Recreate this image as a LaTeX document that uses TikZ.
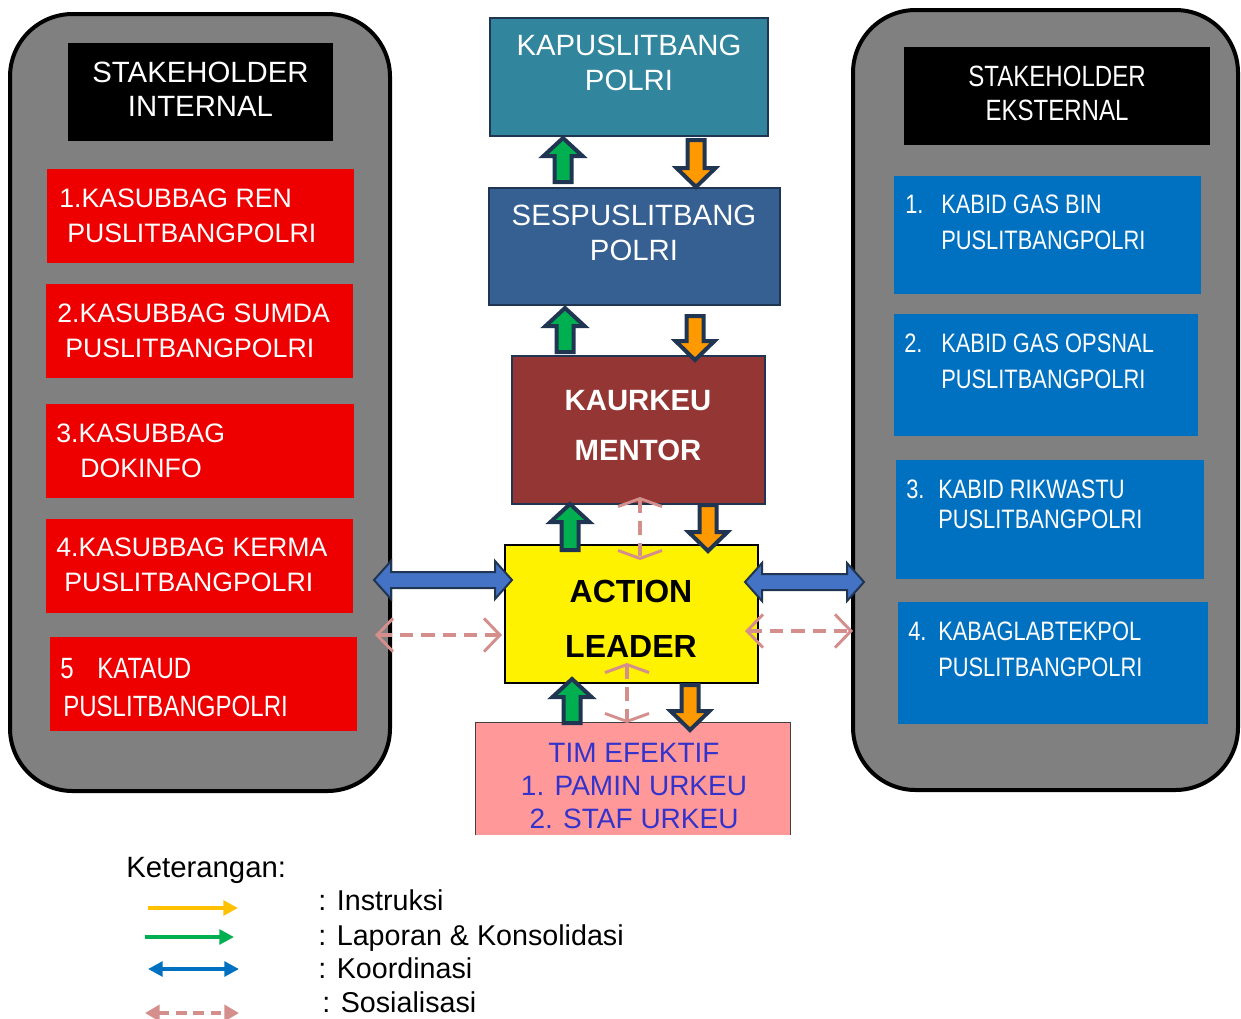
\documentclass[tikz,border=0pt]{standalone}
\usepackage{fontspec}
\setmainfont{Liberation Sans}
\newfontfamily\narrowfont[FakeStretch=0.82]{Liberation Sans}
\usetikzlibrary{arrows.meta,fit,calc}
\definecolor{grayfill}{HTML}{808080}
\definecolor{redbox}{HTML}{EE0000}
\definecolor{bluebox}{HTML}{0070C0}
\definecolor{tealbox}{HTML}{31859C}
\definecolor{sesbox}{HTML}{376092}
\definecolor{kaurbox}{HTML}{943634}
\definecolor{timbox}{HTML}{FF9999}
\definecolor{timtext}{HTML}{3333CC}
\definecolor{navy}{HTML}{1F3552}
\definecolor{greenarr}{HTML}{00B050}
\definecolor{orangearr}{HTML}{FF9900}
\definecolor{koord}{HTML}{4472C4}
\definecolor{pinkarr}{HTML}{D48E8C}
\definecolor{legorange}{HTML}{FFC000}
\definecolor{leggreen}{HTML}{00B050}
\definecolor{legblue}{HTML}{0070C0}
\newcommand\blkup[3]{\filldraw[blk, fill=greenarr] (#1-8.5,#2) -- (#1-8.5,#3+20) -- (#1-19.5,#3+20) -- (#1,#3+2) -- (#1+19.5,#3+20) -- (#1+8.5,#3+20) -- (#1+8.5,#2) -- cycle;}
\newcommand\blkdown[3]{\filldraw[blk, fill=orangearr] (#1-8.5,#2) -- (#1-8.5,#3-21) -- (#1-19.5,#3-21) -- (#1,#3-2) -- (#1+19.5,#3-21) -- (#1+8.5,#3-21) -- (#1+8.5,#2) -- cycle;}
\newcommand\blkdouble[3]{\filldraw[blkk] (#1,#3) -- (#1+17,#3-19) -- (#1+17,#3-8) -- (#2-17,#3-8) -- (#2-17,#3-19) -- (#2,#3) -- (#2-17,#3+19) -- (#2-17,#3+8) -- (#1+17,#3+8) -- (#1+17,#3+19) -- cycle;}
\newcommand\fA{\fontsize{22}{26}\selectfont}
\newcommand\fB{\fontsize{20}{24}\selectfont}
\newcommand\fNA{\narrowfont\fontsize{22}{26}\selectfont}
\newcommand\fNB{\narrowfont\fontsize{20}{24}\selectfont}
\begin{document}
\begin{tikzpicture}[x=0.75pt,y=-0.75pt,
  outerbox/.style={inner sep=0, draw=black, line width=3pt, fill=grayfill, rounded corners=47pt},
  hdr/.style={inner sep=0, fill=black},
  redb/.style={inner sep=0, fill=redbox},
  blueb/.style={inner sep=0, fill=bluebox},
  cbox/.style={inner sep=0, draw=navy, line width=1pt},
  ltxt/.style={inner sep=0, anchor=base west, text=white},
  ctxt/.style={inner sep=0, anchor=base, text=white},
  blk/.style={draw=navy, line width=3pt, line join=miter},
  blkk/.style={draw=navy, line width=1.5pt, fill=koord, line join=miter},
  pinkh/.style={draw=pinkarr, line width=2.8pt, dash pattern=on 10pt off 6pt,
     arrows={Straight Barb[length=12pt,width=25pt,line width=2.2pt]-Straight Barb[length=12pt,width=25pt,line width=2.2pt]}},
  pinkv/.style={draw=pinkarr, line width=2.8pt, dash pattern=on 10pt off 6pt,
     arrows={Straight Barb[length=6pt,width=33pt,line width=2.2pt]-Straight Barb[length=6pt,width=33pt,line width=2.2pt]}},
  legtxt/.style={inner sep=0, anchor=base west, font=\fontsize{21.5}{25}\selectfont}
]
\useasboundingbox (0,0) rectangle (1241,1018);

% ---------- left: internal ----------
\node[fit={(10,14) (390,791)}, outerbox] (intbg) {};
\node[fit={(68,43) (333,141)}, hdr] (inthdr) {};
\node[ctxt, font=\fA] at (200.5,82) {STAKEHOLDER};
\node[ctxt, font=\fA] at (200.5,116) {INTERNAL};

\node[fit={(47,169) (354,263)}, redb] (r1) {};
\node[ltxt, font=\fB] at (59,207) {1.KASUBBAG REN};
\node[ltxt, font=\fB] at (67,242) {PUSLITBANGPOLRI};
\node[fit={(46,284) (353,378)}, redb] (r2) {};
\node[ltxt, font=\fB] at (57,322) {2.KASUBBAG SUMDA};
\node[ltxt, font=\fB] at (65,357) {PUSLITBANGPOLRI};
\node[fit={(46,404) (354,498)}, redb] (r3) {};
\node[ltxt, font=\fB] at (56,442) {3.KASUBBAG};
\node[ltxt, font=\fB] at (80,477) {DOKINFO};
\node[fit={(46,519) (353,613)}, redb] (r4) {};
\node[ltxt, font=\fB] at (56,556) {4.KASUBBAG KERMA};
\node[ltxt, font=\fB] at (64,591) {PUSLITBANGPOLRI};
\node[fit={(50,637) (357,731)}, redb] (r5) {};
\node[ltxt, font=\fNA] at (60,678) {5};
\node[ltxt, font=\fNA] at (97,678) {KATAUD};
\node[ltxt, font=\fNA] at (63,716) {PUSLITBANGPOLRI};

% ---------- right: external ----------
\node[fit={(853,10) (1238,790)}, outerbox] (extbg) {};
\node[fit={(904,47) (1210,145)}, hdr] (exthdr) {};
\node[ctxt, font=\fNA] at (1057,86) {STAKEHOLDER};
\node[ctxt, font=\fNA] at (1057,120) {EKSTERNAL};

\node[fit={(894,176) (1201,294)}, blueb] (b1) {};
\node[ltxt, font=\fNB] at (905,213) {1.};
\node[ltxt, font=\fNB] at (941,213) {KABID GAS BIN};
\node[ltxt, font=\fNB] at (941,249) {PUSLITBANGPOLRI};
\node[fit={(894,314) (1198,436)}, blueb] (b2) {};
\node[ltxt, font=\fNB] at (904,352) {2.};
\node[ltxt, font=\fNB] at (941,352) {KABID GAS OPSNAL};
\node[ltxt, font=\fNB] at (941,388) {PUSLITBANGPOLRI};
\node[fit={(896,460) (1204,579)}, blueb] (b3) {};
\node[ltxt, font=\fNB] at (906,498) {3.};
\node[ltxt, font=\fNB] at (938,498) {KABID RIKWASTU};
\node[ltxt, font=\fNB] at (938,528) {PUSLITBANGPOLRI};
\node[fit={(898,602) (1208,724)}, blueb] (b4) {};
\node[ltxt, font=\fNB] at (908,640) {4.};
\node[ltxt, font=\fNB] at (938,640) {KABAGLABTEKPOL};
\node[ltxt, font=\fNB] at (938,676) {PUSLITBANGPOLRI};

% ---------- centre column ----------
\node[fit={(490,18) (768,136)}, cbox, fill=tealbox] (kapus) {};
\node[ctxt, font=\fA] at (629,55.5) {KAPUSLITBANG};
\node[ctxt, font=\fA] at (629,90.5) {POLRI};
\node[fit={(489,188) (780,305)}, cbox, fill=sesbox] (ses) {};
\node[ctxt, font=\fA] at (634,225.5) {SESPUSLITBANG};
\node[ctxt, font=\fA] at (634,260.5) {POLRI};
\node[fit={(512,356) (765,504)}, cbox, fill=kaurbox] (kaur) {};
\node[ctxt, font=\fA\bfseries] at (638,410.5) {KAURKEU};
\node[ctxt, font=\fA\bfseries] at (638,460.5) {MENTOR};
\node[fit={(505,545) (758,683)}, inner sep=0, draw=black, line width=1pt, fill=yellow] (action) {};
\node[ctxt, text=black, font=\fontsize{24}{28}\selectfont\bfseries] at (631,602) {ACTION};
\node[ctxt, text=black, font=\fontsize{24}{28}\selectfont\bfseries] at (631,657) {LEADER};
\node[fit={(476,723) (790,835)}, inner sep=0, fill=timbox] (tim) {};
\draw[line width=1pt, draw=black!75] (tim.south west) -- (tim.north west) -- (tim.north east) -- (tim.south east);
\node[ctxt, text=timtext, font=\fontsize{21}{25}\selectfont] at (634,762) {TIM EFEKTIF};
\node[ctxt, text=timtext, font=\fontsize{21}{25}\selectfont] at (634,795) {1. PAMIN URKEU};
\node[ctxt, text=timtext, font=\fontsize{21}{25}\selectfont] at (634,828) {2. STAF URKEU};

% ---------- block arrows ----------
\blkup{563}{182}{136}
\blkdown{696}{140}{189}
\blkup{565}{352}{306}
\blkdown{695}{316}{362}
\blkup{570}{550}{502}
\blkdown{708}{505}{553}
\blkup{572}{723}{677}
\blkdown{690}{685}{732}

\blkdouble{374}{512}{580}
\blkdouble{745}{864}{582}

% ---------- sosialisasi (dashed) ----------
\coordinate (pl1) at (375,635); \coordinate (pl2) at (502,635);
\coordinate (pr1) at (745,631); \coordinate (pr2) at (853,631);
\coordinate (pv1) at (640,497); \coordinate (pv2) at (640,560);
\coordinate (pw1) at (627,663); \coordinate (pw2) at (627,723);
\draw[pinkh] (pl1) -- (pl2);
\draw[pinkh] (pr1) -- (pr2);
\draw[pinkv] (pv1) -- (pv2);
\draw[pinkv] (pw1) -- (pw2);

% ---------- legend ----------
\node[legtxt, font=\fA] (ket) at (126,877) {Keterangan:};
\coordinate (l1a) at (148,908); \coordinate (l1b) at (238,908);
\coordinate (l2a) at (145,937); \coordinate (l2b) at (234,937);
\coordinate (l3a) at (148,969); \coordinate (l3b) at (239,969);
\coordinate (l4a) at (145,1013); \coordinate (l4b) at (239,1013);
\draw[legorange, line width=3pt, -{Triangle[length=11pt,width=11pt]}] (l1a) -- (l1b);
\draw[leggreen, line width=3pt, -{Triangle[length=11pt,width=11pt]}] (l2a) -- (l2b);
\draw[legblue, line width=3pt, {Triangle[length=11pt,width=11pt]}-{Triangle[length=11pt,width=11pt]}] (l3a) -- (l3b);
\draw[pinkarr, line width=2.6pt, dash pattern=on 8pt off 5pt, {Triangle[length=11pt,width=12pt]}-{Triangle[length=11pt,width=12pt]}] (l4a) -- (l4b);
\node[legtxt] (t1) at (318,910) {: Instruksi};
\node[legtxt] (t2) at (318,945) {: Laporan \& Konsolidasi};
\node[legtxt] (t3) at (318,978) {: Koordinasi};
\node[legtxt] (t4) at (322,1012) {: Sosialisasi};
\end{tikzpicture}
\end{document}
